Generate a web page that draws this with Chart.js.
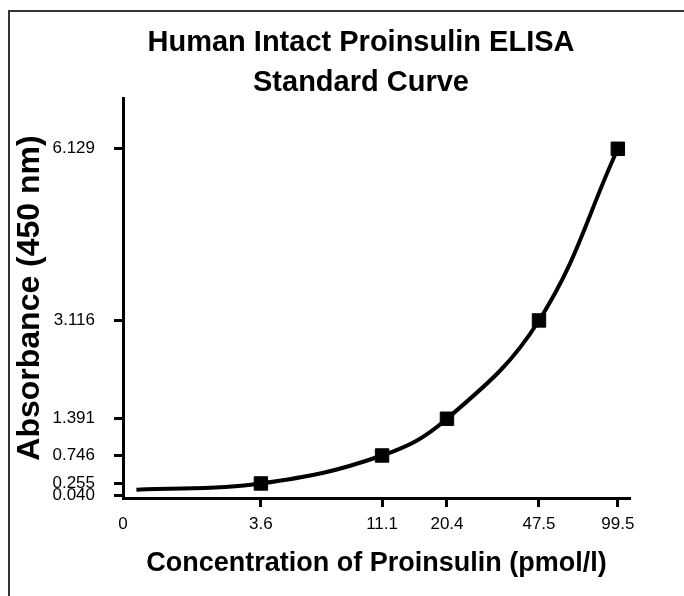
<!DOCTYPE html>
<html>
<head>
<meta charset="utf-8">
<script src="https://cdn.jsdelivr.net/npm/chart.js@4/dist/chart.umd.min.js"></script>
<style>
  html,body{margin:0;padding:0;background:#fff;}
</style>
</head>
<body>
<canvas id="c" width="684" height="596"></canvas>
<script>
/* Human Intact Proinsulin ELISA — standard curve */

// Standards
var standardConc = [3.6, 11.1, 20.4, 47.5, 99.5];       // pmol/l
var standardAbs  = [0.255, 0.746, 1.391, 3.116, 6.129]; // A450
// Fitted curve begins just right of zero
var curveStartConc = 0.35;
var curveStartAbs  = 0.145;

var xTicks = [0, 3.6, 11.1, 20.4, 47.5, 99.5];
var yTicks = [0.040, 0.255, 0.746, 1.391, 3.116, 6.129];

// The original x axis isn't linear: every tick sits at its own place.
// concentration -> fraction of axis width
var axisStopConc = [0, 3.6, 11.1, 20.4, 47.5, 99.5, 105];
var axisStopFrac = [0, 0.272, 0.511, 0.639, 0.8205, 0.976, 1];

var FONT = '"Liberation Sans", Arial, Helvetica, sans-serif';

function interp(v, from, to){
  if(v <= from[0]) return to[0];
  for(var i=1;i<from.length;i++){
    if(v <= from[i]) return to[i-1] + (v-from[i-1])/(from[i]-from[i-1])*(to[i]-to[i-1]);
  }
  return to[to.length-1];
}

// Linear scale with a piecewise mapping between the stops above
class StopScale extends Chart.LinearScale {
  getPixelForValue(value){ return this.getPixelForDecimal(interp(value, axisStopConc, axisStopFrac)); }
  getValueForPixel(pixel){ return interp(this.getDecimalForPixel(pixel), axisStopFrac, axisStopConc); }
}
StopScale.id = 'stops';
Chart.register(StopScale);

// Thin frame on the left and top edge, like the scanned original
var framePlugin = {
  id:'frame',
  beforeDraw:function(chart){
    var ctx = chart.ctx;
    ctx.save();
    ctx.strokeStyle = '#333';
    ctx.lineWidth = 2;
    ctx.beginPath();
    ctx.moveTo(9, chart.height);
    ctx.lineTo(9, 11);
    ctx.lineTo(chart.width, 11);
    ctx.stroke();
    ctx.restore();
  }
};

var standards = standardConc.map(function(c, i){ return {x:c, y:standardAbs[i]}; });
var curve = [{x:curveStartConc, y:curveStartAbs}].concat(standards);

new Chart(document.getElementById('c'), {
  type:'line',
  data:{
    datasets:[
      {
        label:'Standards', data:standards, showLine:false,
        pointStyle:'rect', pointRadius:9.5, pointBorderWidth:1,
        pointBackgroundColor:'#000', pointBorderColor:'#000', order:0
      },
      {
        label:'Fit', data:curve, borderColor:'#000', borderWidth:4,
        pointRadius:0, tension:0.4, fill:false, order:1
      }
    ]
  },
  options:{
    responsive:false,
    animation:false,
    events:[],
    // left pad + empty right axis keep the title centred where the original has it
    layout:{ padding:{ left:38, right:0, top:23, bottom:0 } },
    plugins:{
      legend:{ display:false },
      tooltip:{ enabled:false },
      title:{
        display:true,
        text:['Human Intact Proinsulin ELISA', 'Standard Curve'],
        color:'#000',
        font:{ family:FONT, size:29, weight:'bold', lineHeight:40/29 },
        padding:{ top:0, bottom:-5 }
      }
    },
    scales:{
      x:{
        type:'stops', min:0, max:105,
        afterBuildTicks:function(s){ s.ticks = xTicks.map(function(v){ return {value:v}; }); },
        afterFit:function(s){ s.height = 98; },
        border:{ display:true, color:'#000', width:3 },
        grid:{
          drawOnChartArea:false, drawTicks:true, tickLength:9, tickWidth:3,
          tickColor:function(ctx){ return ctx.tick && ctx.tick.value === 0 ? 'rgba(0,0,0,0)' : '#000'; }
        },
        ticks:{
          autoSkip:false, maxRotation:0, padding:7, color:'#000',
          font:{ family:FONT, size:17 },
          callback:function(v){ return v === 0 ? '0' : String(v); }
        },
        title:{
          display:true, text:'Concentration of Proinsulin (pmol/l)', color:'#000',
          font:{ family:FONT, size:27, weight:'bold' },
          padding:{ top:0, bottom:16 }
        }
      },
      y:{
        type:'linear', min:0, max:7.02,
        afterBuildTicks:function(s){ s.ticks = yTicks.map(function(v){ return {value:v}; }); },
        afterFit:function(s){ s.width = 85; },
        border:{ display:true, color:'#000', width:3 },
        grid:{ drawOnChartArea:false, drawTicks:true, tickLength:9, tickWidth:3, tickColor:'#000' },
        ticks:{
          autoSkip:false, padding:19, color:'#000',
          font:{ family:FONT, size:17 },
          callback:function(v){ return Number(v).toFixed(3); }
        },
        title:{
          display:true, text:'Absorbance (450 nm)', color:'#000',
          font:{ family:FONT, size:32, weight:'bold' },
          padding:{ top:-27, bottom:0 }
        }
      },
      yRight:{
        type:'linear', position:'right', min:0, max:1,
        afterFit:function(s){ s.width = 54; },
        border:{ display:false },
        grid:{ display:false },
        ticks:{ display:false }
      }
    }
  },
  plugins:[framePlugin]
});
</script>
</body>
</html>
